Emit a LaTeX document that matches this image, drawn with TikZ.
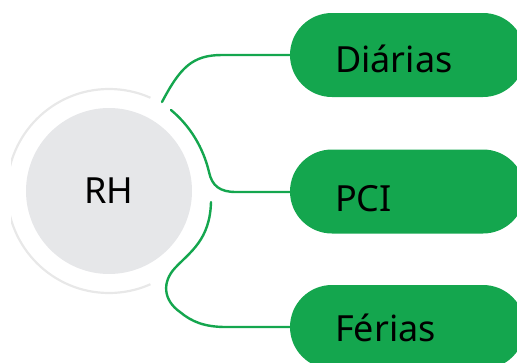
\documentclass[tikz,border=0pt]{standalone}
\usepackage{fontspec}
\setmainfont{Noto Sans}
\definecolor{leafgreen}{HTML}{14A64E}
\definecolor{hubgray}{HTML}{E6E7E9}
\definecolor{ringgray}{HTML}{E8E8E8}
\begin{document}
\begin{tikzpicture}[x=1pt,y=-1pt,
  hub/.style={circle,fill=hubgray,minimum size=166pt,inner sep=0pt},
  pill/.style={fill=leafgreen,rounded corners=42pt,minimum width=235pt,
    minimum height=84pt,inner sep=0pt},
  label/.style={anchor=base,inner sep=0pt,font=\fontsize{36}{43}\selectfont},
  pilltext/.style={label,anchor=base west},
  link/.style={draw=leafgreen,line width=2.4pt,line cap=round},
  ring/.style={draw=ringgray,line width=2.2pt}]
\useasboundingbox (0,0) rectangle (517,362);
\clip (0,0) rectangle (517,362);

% central topic with its outer ring, open towards the branches
\begin{scope}
  \clip (109,191) -- (190.3,8) -- (11,8) -- (11,374) -- (190.3,374) -- cycle;
  \draw[ring] (109,191) circle[radius=102pt];
\end{scope}
\node[hub] (rh) at (109,191) {};
\node[label] (rhtext) at (109,203) {RH};

% branch pills
\node[pill] (diarias) at (407.5,55) {};
\node[pill] (pci) at (407.5,191.5) {};
\node[pill] (ferias) at (407.5,327) {};
\node[pilltext] (tdiarias) at (335,72) {Diárias};
\node[pilltext] (tpci) at (335,211) {PCI};
\node[pilltext] (tferias) at (335,341) {Férias};

% connectors
\coordinate (s1) at (162,102);
\coordinate (s2) at (171,110);
\coordinate (s3) at (211,202);
\draw[link] (s1) .. controls (180,68) and (192,55) .. (222,55) -- (diarias.west);
\draw[link] (s2) .. controls (195,130) and (205,155) .. (209,172)
  .. controls (212,186) and (220,192) .. (236,192) -- (pci.west |- 0,192);
\draw[link] (s3) .. controls (210,240) and (190,252) .. (175,268)
  .. controls (162,282) and (163,300) .. (180,312)
  .. controls (192,322) and (205,327) .. (226,327) -- (ferias.west);
\end{tikzpicture}
\end{document}
